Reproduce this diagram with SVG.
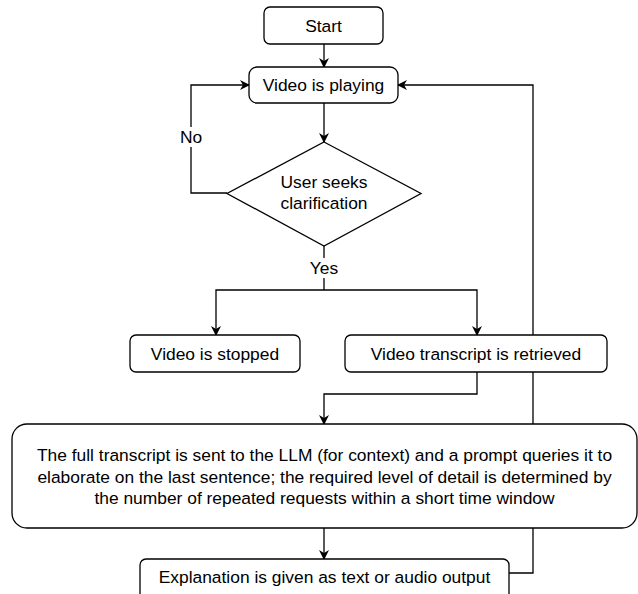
<svg xmlns="http://www.w3.org/2000/svg" width="638" height="594" viewBox="0 0 638 594">
<style>
.box{fill:#fff;stroke:#000;stroke-width:1.3}
.t{font-family:"Liberation Sans",Arial,sans-serif;font-size:17.4px;fill:#000;text-anchor:middle;dominant-baseline:central}
.c{fill:none;stroke:#000;stroke-width:1.3}
.a{marker-end:url(#arr)}
.lbl{fill:#fff}
</style>
<defs>
<marker id="arr" viewBox="0 0 10 10" refX="9" refY="5" markerWidth="10" markerHeight="10" markerUnits="userSpaceOnUse" orient="auto">
<path d="M0,0 L10,5 L0,10 L3,5 z" fill="#000"/>
</marker>
</defs>
<g id="connectors">
<path class="c a" d="M324,44 L324,67"/>
<path class="c a" d="M324,103 L324,142"/>
<path class="c a" d="M227,193 L191,193 L191,85 L249,85"/>
<path class="c" d="M324,246 L324,290"/>
<path class="c a" d="M324,290 L216,290 L216,335"/>
<path class="c a" d="M324,290 L477,290 L477,335"/>
<path class="c a" d="M477,372 L477,394 L324,394 L324,424"/>
<path class="c a" d="M324,528 L324,559"/>
<path class="c a" d="M509,573 L533,573 L533,85 L398,85"/>
<rect class="lbl" x="180" y="127" width="22" height="20"/>
<text class="t" x="191" y="137">No</text>
<rect class="lbl" x="309" y="258" width="30" height="20"/>
<text class="t" x="324" y="268">Yes</text>
</g>
<g id="start">
<rect class="box" x="264" y="7" width="119" height="37" rx="6"/>
<text class="t" x="323.5" y="25.5">Start</text>
</g>
<g id="playing">
<rect class="box" x="249" y="67" width="149" height="36" rx="8"/>
<text class="t" x="323.5" y="85">Video is playing</text>
</g>
<g id="decision">
<polygon class="box" points="324,142 421,193.5 324,246 227,193.5"/>
<text class="t" x="324" y="182">User seeks</text>
<text class="t" x="324" y="203">clarification</text>
</g>
<g id="stopped">
<rect class="box" x="130" y="335" width="170" height="37" rx="6"/>
<text class="t" x="215" y="353.5">Video is stopped</text>
</g>
<g id="transcript">
<rect class="box" x="345" y="335" width="262" height="37" rx="6"/>
<text class="t" x="476" y="353.5">Video transcript is retrieved</text>
</g>
<g id="llm">
<rect class="box" x="12" y="424" width="625" height="104" rx="15"/>
<text class="t" x="324.5" y="455">The full transcript is sent to the LLM (for context) and a prompt queries it to</text>
<text class="t" x="324.5" y="477">elaborate on the last sentence; the required level of detail is determined by</text>
<text class="t" x="324.5" y="498">the number of repeated requests within a short time window</text>
</g>
<g id="explanation">
<rect class="box" x="140" y="559" width="369" height="45" rx="6"/>
<text class="t" x="324.5" y="577">Explanation is given as text or audio output</text>
</g>
</svg>
